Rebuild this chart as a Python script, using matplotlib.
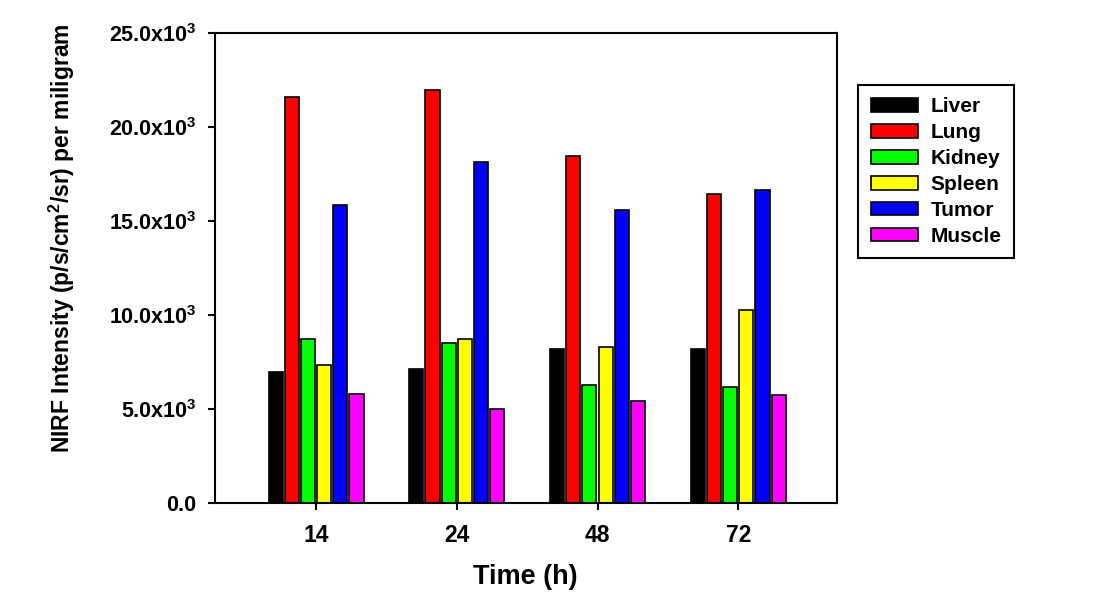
import numpy as np
import matplotlib
matplotlib.use('Agg')
import matplotlib.pyplot as plt

plt.rcParams['font.family'] = ['Liberation Sans', 'DejaVu Sans']
plt.rcParams['font.weight'] = 'bold'
plt.rcParams['axes.linewidth'] = 1.5
plt.rcParams['mathtext.fontset'] = 'custom'
plt.rcParams['mathtext.rm'] = 'Liberation Sans:bold'
plt.rcParams['mathtext.bf'] = 'Liberation Sans:bold'
plt.rcParams['mathtext.default'] = 'bf'

# data
times = ['14', '24', '48', '72']
organs = ['Liver', 'Lung', 'Kidney', 'Spleen', 'Tumor', 'Muscle']
liver = [6980, 7100, 8200, 8200]
lung = [21600, 21980, 18470, 16410]
kidney = [8700, 8520, 6250, 6140]
spleen = [7330, 8700, 8290, 10260]
tumor = [15860, 18130, 15590, 16640]
muscle = [5790, 4990, 5430, 5740]
colors = ['#000000', '#ff0000', '#00ff00', '#ffff00', '#0000ff', '#ff00ff']
yticks = [0, 5000, 10000, 15000, 20000, 25000]
ytick_labels = ['0.0', '5.0x10$^{3}$', '10.0x10$^{3}$', '15.0x10$^{3}$',
                '20.0x10$^{3}$', '25.0x10$^{3}$']

series = [liver, lung, kidney, spleen, tumor, muscle]

fig = plt.figure(figsize=(11.01, 6.0), dpi=100)
ax = fig.add_axes([0.195, 0.162, 0.565, 0.783])

x = np.arange(len(times))
pitch = 0.115
width = 0.10
for i, (name, vals, c) in enumerate(zip(organs, series, colors)):
    ax.bar(x + (i - 2.5) * pitch, vals, width, color=c, edgecolor='black',
           linewidth=1.2, label=name)

ax.set_xlim(-0.72, 3.70)
ax.set_ylim(0, 25000)
ax.set_xticks(x)
ax.set_xticklabels(times, fontsize=16.5, fontweight='bold')
ax.set_yticks(yticks)
ax.set_yticklabels(ytick_labels, fontsize=15.5, fontweight='bold')
ax.tick_params(axis='both', direction='out', length=5, width=1.5, pad=8)
ax.tick_params(axis='x', pad=10)

ax.set_xlabel('Time (h)', fontsize=19.5, fontweight='bold')
ax.xaxis.set_label_coords(0.5, -0.13)
ax.set_ylabel('NIRF Intensity (p/s/cm$^{2}$/sr) per miligram', fontsize=16.5,
              fontweight='bold')
ax.yaxis.set_label_coords(-0.222, 0.564)

leg = fig.legend(loc='upper left', bbox_to_anchor=(858 / 1101, 1 - 85 / 600),
                 borderaxespad=0, fancybox=False, framealpha=1,
                 edgecolor='black', fontsize=15, handlelength=2.3,
                 handleheight=0.63, labelspacing=0.33, handletextpad=0.58,
                 borderpad=0.6)
leg.get_frame().set_linewidth(1.5)
for t in leg.get_texts():
    t.set_fontweight('bold')

fig.savefig('out.png', dpi=100)
